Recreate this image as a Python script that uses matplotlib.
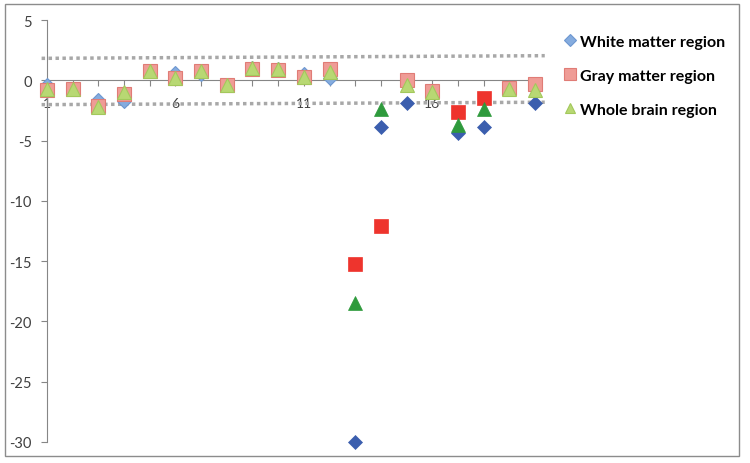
import matplotlib.pyplot as plt
from matplotlib.patches import Rectangle
from matplotlib.ticker import FixedLocator, FuncFormatter

plt.rcParams['font.family'] = ['Lato', 'DejaVu Sans']
plt.rcParams['axes.unicode_minus'] = False

# subject number 1..20
subjects = list(range(1, 21))
white = [-0.4, -0.7, -1.6, -1.7, 0.8, 0.6, 0.5, -0.4, 1.0, 0.9,
         0.55, 0.15, -30.0, -3.9, -1.9, -1.0, -4.4, -3.9, -0.7, -1.9]
gray = [-0.8, -0.75, -2.15, -1.1, 0.75, 0.15, 0.8, -0.4, 0.95, 0.85,
        0.3, 0.9, -15.2, -12.1, 0.05, -0.9, -2.6, -1.5, -0.65, -0.3]
whole = [-0.7, -0.7, -2.2, -1.0, 0.8, 0.2, 0.8, -0.4, 1.0, 0.9,
         0.3, 0.7, -18.5, -2.35, -0.4, -1.0, -3.7, -2.4, -0.7, -0.8]

# subjects flagged as outliers in each region
white_sig = [13, 14, 15, 17, 18, 20]
gray_sig = [13, 14, 17, 18]
whole_sig = [13, 14, 17, 18]

# dotted limit lines (end points)
band_x = [0.79, 20.38]
upper = [1.82, 2.04]
lower = [-2.02, -1.82]

labels = ["White matter region", "Gray matter region", "Whole brain region"]

fig = plt.figure(figsize=(7.5, 4.64), dpi=100)
ax = fig.add_axes([47/750, 21/464, 488/750, 422/464])

series = [
    (white, white_sig, 'D', 7.5, '#85acdf', '#6d97d0', '#3b5eae'),
    (gray, gray_sig, 's', 10, '#ef9c96', '#e07c76', '#ee342d'),
    (whole, whole_sig, '^', 9.5, '#b8d873', '#a3c85c', '#2e9a3c'),
]

for i, (vals, sig, m, ms, light, edge, dark) in enumerate(series):
    lx = [x for x, v in zip(subjects, vals) if x not in sig]
    ly = [v for x, v in zip(subjects, vals) if x not in sig]
    dx = [x for x, v in zip(subjects, vals) if x in sig]
    dy = [v for x, v in zip(subjects, vals) if x in sig]
    ax.plot(lx, ly, m, ms=ms, mfc=light, mec=edge, mew=0.8, ls='none',
            zorder=3 + i, clip_on=False, label=labels[i])
    ax.plot(dx, dy, m, ms=ms, mfc=dark, mec=dark, mew=0.5, ls='none',
            zorder=3 + i, clip_on=False)

ax.plot(band_x, upper, color='#a8a8a8', ls=(0, (1, 1)), lw=2.5, clip_on=False, zorder=2)
ax.plot(band_x, lower, color='#a8a8a8', ls=(0, (1, 1)), lw=2.5, clip_on=False, zorder=2)

ax.set_xlim(1, 20)
ax.set_ylim(-30, 5)
ax.set_yticks(range(-30, 6, 5))
ax.xaxis.set_major_locator(FixedLocator(subjects))
ax.xaxis.set_major_formatter(FuncFormatter(lambda v, p: str(int(v)) if int(v) in (1, 6, 11, 16) else ''))

for s in ['top', 'right']:
    ax.spines[s].set_visible(False)
ax.spines['bottom'].set_position(('data', 0))
ax.spines['left'].set_color('#868686')
ax.spines['bottom'].set_color('#868686')
ax.tick_params(axis='x', direction='out', length=4, pad=8, colors='#868686',
               labelcolor='#404040', labelsize=10)
ax.tick_params(axis='y', direction='out', length=4, pad=7, colors='#868686',
               labelcolor='#404040', labelsize=10.5)

leg = fig.legend(loc='upper left', bbox_to_anchor=(547/750, 1 - 21/464), frameon=False,
                 prop={'weight': 'bold', 'size': 11.5}, labelspacing=1.24,
                 handletextpad=0.05, handlelength=1.1, markerscale=0.8)

fig.patches.append(Rectangle((5/750, 7/464), 734/750, 452/464, transform=fig.transFigure,
                             fill=False, ec='#8c8c8c', lw=1))

fig.savefig('out.png', dpi=100)
